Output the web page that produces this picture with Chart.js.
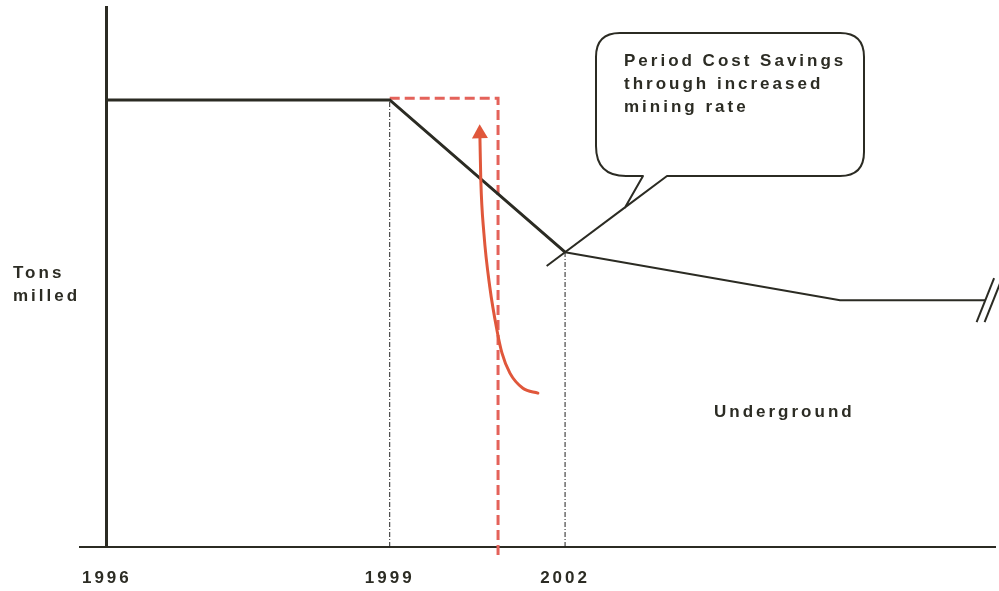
<!DOCTYPE html>
<html>
<head>
<meta charset="utf-8">
<script src="https://cdn.jsdelivr.net/npm/chart.js@4.4.0/dist/chart.umd.min.js"></script>
<style>
  html, body { margin: 0; padding: 0; background: #ffffff; }
  #wrap { width: 999px; height: 591px; }
</style>
</head>
<body>
<div id="wrap"><canvas id="c" width="999" height="591"></canvas></div>
<script>
// Timeline in schematic units: 1996 = 0, 1999 = 10 (diagram is not to scale)
const yearLabels = ['1996', '1999', '2002'];
const yearPos = [0, 10, 16.2];

// Tons milled profile (relative tonnage, 0-100)
const millX = [0, 10, 16.2, 25.92, 31.05];
const millY = [82.8, 82.8, 54.6, 45.7, 45.7];

// Period of cost savings (dashed outline)
const savingsX = [10, 13.83, 13.83];
const savingsY = [83.1, 83.1, -1.7];

// Increased mining rate (curved arrow, drawn tail to head)
const arrowX = [15.24, 14.71, 14.25, 13.97, 13.79, 13.54, 13.33, 13.22, 13.19];
const arrowY = [28.5, 29.4, 32.2, 35.9, 40.2, 48.1, 58.1, 68.0, 75.7];

// Text
const calloutLines = ['Period Cost Savings', 'through increased', 'mining rate'];
const yTitleLines = ['Tons', 'milled'];
const areaLabel = 'Underground';

const ink = '#2b2b23';
const textInk = '#2c2c24';
const red = '#e4625a';
const arrowRed = '#e0573b';
const fontFamily = '"Liberation Sans", Arial, Helvetica, sans-serif';
const spacing = '3px';

const pts = (xs, ys) => xs.map((x, i) => ({ x, y: ys[i] }));

const annotations = {
  id: 'annotations',
  beforeDraw(chart) {
    chart.ctx.letterSpacing = spacing;
  },
  afterDatasetsDraw(chart) {
    const { ctx, scales: { x, y } } = chart;
    ctx.save();
    ctx.letterSpacing = spacing;

    // arrow head on the mining-rate curve
    const n = arrowX.length;
    const hx = x.getPixelForValue(arrowX[n - 1]);
    const hy = y.getPixelForValue(arrowY[n - 1]);
    const px = x.getPixelForValue(arrowX[n - 2]);
    const py = y.getPixelForValue(arrowY[n - 2]);
    const ang = Math.atan2(hy - py, hx - px);
    const len = 14, half = 8;
    const tx = hx + Math.cos(ang) * len, ty = hy + Math.sin(ang) * len;
    ctx.fillStyle = arrowRed;
    ctx.beginPath();
    ctx.moveTo(tx, ty);
    ctx.lineTo(hx + Math.cos(ang + Math.PI / 2) * half, hy + Math.sin(ang + Math.PI / 2) * half);
    ctx.lineTo(hx + Math.cos(ang - Math.PI / 2) * half, hy + Math.sin(ang - Math.PI / 2) * half);
    ctx.closePath();
    ctx.fill();

    // break marks at the end of the profile
    const ex = x.getPixelForValue(millX[millX.length - 1]);
    const ey = y.getPixelForValue(millY[millY.length - 1]);
    ctx.strokeStyle = ink;
    ctx.lineWidth = 2;
    [0, 8].forEach(off => {
      ctx.beginPath();
      ctx.moveTo(ex + off - 8.5, ey + 22);
      ctx.lineTo(ex + off + 9, ey - 22);
      ctx.stroke();
    });

    // callout pointing at the 2002 point
    const ax = x.getPixelForValue(millX[2]);
    const ay = y.getPixelForValue(millY[2]);
    const L = 596, T = 33, R = 864, B = 176, r = 24, rbl = 30;
    const baseR = 667, baseL = 643;
    const dx = ax - baseR, dy = ay - B;
    const dl = Math.hypot(dx, dy);
    const ux = dx / dl, uy = dy / dl;
    const jt = (625 - baseR) / ux;           // junction of the pointer sides
    const jx = baseR + ux * jt, jy = B + uy * jt;
    const ext = dl + 23;                      // pointer runs past the point
    ctx.lineWidth = 2;
    ctx.lineJoin = 'round';
    ctx.beginPath();
    ctx.moveTo(L + r, T);
    ctx.lineTo(R - r, T);
    ctx.quadraticCurveTo(R, T, R, T + r);
    ctx.lineTo(R, B - r);
    ctx.quadraticCurveTo(R, B, R - r, B);
    ctx.lineTo(baseR, B);
    ctx.lineTo(jx, jy);
    ctx.lineTo(baseL, B);
    ctx.lineTo(L + rbl, B);
    ctx.quadraticCurveTo(L, B, L, B - rbl);
    ctx.lineTo(L, T + r);
    ctx.quadraticCurveTo(L, T, L + r, T);
    ctx.closePath();
    ctx.fillStyle = '#ffffff';
    ctx.fill();
    ctx.stroke();
    ctx.beginPath();
    ctx.moveTo(jx, jy);
    ctx.lineTo(baseR + ux * ext, B + uy * ext);
    ctx.stroke();

    // texts
    ctx.fillStyle = textInk;
    ctx.font = 'bold 17px ' + fontFamily;
    ctx.textAlign = 'left';
    ctx.textBaseline = 'alphabetic';
    calloutLines.forEach((t, i) => ctx.fillText(t, 624, 66 + i * 23));
    yTitleLines.forEach((t, i) => ctx.fillText(t, 13, 278 + i * 23));
    ctx.fillText(areaLabel, 714, 417);
    ctx.restore();
  }
};

new Chart(document.getElementById('c'), {
  type: 'line',
  data: {
    datasets: [
      {
        label: 'Increased mining rate',
        data: pts(arrowX, arrowY),
        borderColor: arrowRed,
        borderWidth: 3,
        borderCapStyle: 'round',
        cubicInterpolationMode: 'monotone',
        pointRadius: 0,
        clip: false
      },
      {
        label: 'Tons milled',
        data: pts(millX, millY),
        borderColor: ink,
        borderWidth: 3,
        segment: { borderWidth: c => (c.p0DataIndex < 2 ? 3 : 2) },
        pointRadius: 0,
        tension: 0,
        clip: false
      },
      {
        label: 'Period cost savings',
        data: pts(savingsX, savingsY),
        borderColor: red,
        borderWidth: 3,
        borderDash: [10, 5],
        pointRadius: 0,
        tension: 0,
        clip: false
      },
      {
        label: '1999 marker',
        data: [{ x: millX[1], y: 0 }, { x: millX[1], y: millY[1] }],
        borderColor: '#222',
        borderWidth: 1,
        borderDash: [5, 2, 1, 2],
        pointRadius: 0
      },
      {
        label: '2002 marker',
        data: [{ x: millX[2], y: 0 }, { x: millX[2], y: millY[2] }],
        borderColor: '#222',
        borderWidth: 1,
        borderDash: [5, 2, 1, 2],
        pointRadius: 0
      }
    ]
  },
  options: {
    responsive: false,
    animation: false,
    events: [],
    layout: { padding: { left: 80, right: 4, top: 7, bottom: 0 } },
    plugins: { legend: { display: false }, tooltip: { enabled: false } },
    scales: {
      x: {
        type: 'linear',
        min: -0.95,
        max: 31.4,
        grid: { display: false },
        border: { display: true, width: 2, color: ink },
        afterBuildTicks: s => { s.ticks = yearPos.map(v => ({ value: v })); },
        afterFit: s => { s.height = 44; },
        ticks: {
          autoSkip: false,
          maxRotation: 0,
          padding: 13,
          color: textInk,
          font: { family: fontFamily, size: 17, weight: 'bold' },
          callback: (v, i) => yearLabels[i]
        }
      },
      y: {
        type: 'linear',
        min: 0,
        max: 100,
        position: { x: 0 },
        grid: { display: false },
        border: { display: true, width: 3, color: ink },
        ticks: { display: false }
      }
    }
  },
  plugins: [annotations]
});
</script>
</body>
</html>
